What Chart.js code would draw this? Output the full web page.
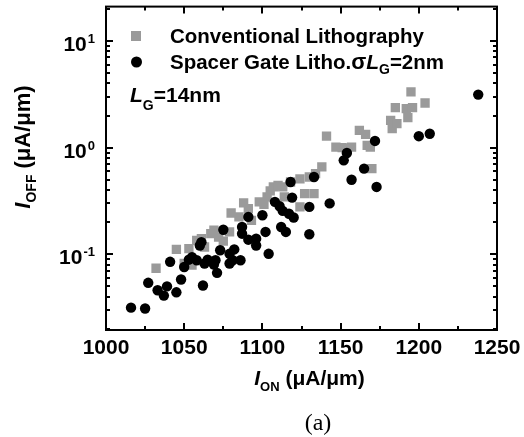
<!DOCTYPE html>
<html>
<head>
<meta charset="utf-8">
<script src="https://cdn.jsdelivr.net/npm/chart.js@4.4.1/dist/chart.umd.min.js"></script>
<style>
  html, body { margin: 0; padding: 0; background: #fff; }
  #wrap { position: relative; width: 524px; height: 437px; }
</style>
</head>
<body>
<div id="wrap"><canvas id="scatter"></canvas></div>
<script>
// Conventional lithography (grey squares)
var convX = [1032, 1045, 1050, 1053, 1055, 1058, 1061, 1063, 1067, 1069, 1072, 1075, 1079, 1080, 1085, 1088, 1091, 1093,
             1098, 1101, 1103, 1105, 1107, 1110, 1113, 1114, 1118, 1124, 1124, 1127, 1130, 1133, 1134, 1138, 1141, 1147,
             1151, 1154, 1157, 1162, 1166, 1167, 1169, 1170, 1182, 1183, 1185, 1186, 1192, 1193, 1195, 1196, 1204];
var convY = [0.074, 0.111, 0.082, 0.113, 0.079, 0.135, 0.140, 0.117, 0.156, 0.168, 0.145, 0.133, 0.162, 0.244, 0.224, 0.303, 0.268, 0.208,
             0.31, 0.294, 0.345, 0.393, 0.428, 0.443, 0.428, 0.345, 0.476, 0.278, 0.51, 0.37, 0.53, 0.37, 0.57, 0.66, 1.28, 1.01,
             1.0, 0.98, 1.01, 1.45, 1.33, 1.05, 1.01, 0.635, 1.80, 1.51, 2.37, 1.68, 2.32, 1.91, 3.33, 2.37, 2.62];

// Spacer gate lithography (black circles)
var spacerX = [1016, 1025, 1027, 1033, 1037, 1039, 1041, 1045, 1048, 1050, 1053, 1055, 1058, 1060, 1061, 1062, 1063, 1065,
               1069, 1070, 1071, 1073, 1075, 1079, 1079, 1081, 1082, 1086, 1087, 1087, 1091, 1091, 1096, 1096, 1100, 1102,
               1104, 1108, 1111, 1113, 1112, 1115, 1117, 1118, 1119, 1120, 1130, 1130, 1133, 1143, 1152, 1154, 1157, 1165,
               1172, 1173, 1200, 1207, 1238];
var spacerY = [0.0316, 0.031, 0.054, 0.046, 0.041, 0.050, 0.085, 0.044, 0.058, 0.076, 0.089, 0.094, 0.088, 0.121, 0.13, 0.051, 0.082, 0.089,
               0.080, 0.088, 0.067, 0.109, 0.170, 0.101, 0.082, 0.088, 0.111, 0.088, 0.18, 0.156, 0.224, 0.137, 0.121, 0.140, 0.232, 0.162,
               0.101, 0.31, 0.282, 0.255, 0.180, 0.162, 0.240, 0.476, 0.34, 0.221, 0.154, 0.278, 0.53, 0.30, 0.76, 0.89, 0.50, 0.635,
               1.155, 0.428, 1.28, 1.35, 3.14];

var xTicks = [1000, 1050, 1100, 1150, 1200, 1250];
var xMinor = [1025, 1075, 1125, 1175, 1225];
var yTicks = [0.1, 1, 10];
var yTickExp = ['-1', '0', '1'];

var SANS = '"Liberation Sans", Arial, sans-serif';
var SERIF = '"Liberation Serif", "Times New Roman", serif';
var GREY = '#9a9a9a';

function toPoints(xs, ys) {
  return xs.map(function (x, i) { return { x: x, y: ys[i] }; });
}

// draw a run of text pieces: [text, font, dy]
function drawRich(ctx, parts, x, y) {
  ctx.textAlign = 'left';
  ctx.textBaseline = 'alphabetic';
  parts.forEach(function (p) {
    ctx.font = p[1];
    ctx.fillText(p[0], x, y + (p[2] || 0));
    x += ctx.measureText(p[0]).width;
  });
}
function richWidth(ctx, parts) {
  var w = 0;
  parts.forEach(function (p) { ctx.font = p[1]; w += ctx.measureText(p[0]).width; });
  return w;
}

var framePlugin = {
  id: 'frame',
  afterDraw: function (chart) {
    var ctx = chart.ctx, a = chart.chartArea;
    var xs = chart.scales.x, ys = chart.scales.y;
    ctx.save();
    ctx.strokeStyle = '#000';
    ctx.fillStyle = '#000';
    ctx.lineWidth = 2;
    ctx.strokeRect(a.left, a.top, a.right - a.left, a.bottom - a.top);

    // x ticks, inward on bottom and top
    function xTick(v, len) {
      var px = Math.round(xs.getPixelForValue(v));
      ctx.beginPath();
      ctx.moveTo(px, a.bottom); ctx.lineTo(px, a.bottom - len);
      ctx.moveTo(px, a.top); ctx.lineTo(px, a.top + len);
      ctx.stroke();
    }
    xTicks.forEach(function (v) { xTick(v, 7); });
    xMinor.forEach(function (v) { xTick(v, 4); });

    // y ticks (log), inward on left and right
    function yTick(v, len) {
      var py = Math.round(ys.getPixelForValue(v));
      if (py < a.top || py > a.bottom) return;
      ctx.beginPath();
      ctx.moveTo(a.left, py); ctx.lineTo(a.left + len, py);
      ctx.moveTo(a.right, py); ctx.lineTo(a.right - len, py);
      ctx.stroke();
    }
    [0.01, 0.1, 1, 10].forEach(function (dec) {
      for (var m = 2; m <= 9; m++) yTick(dec * m, 4);
    });
    yTicks.forEach(function (v) { yTick(v, 7); });

    // x tick labels
    ctx.font = 'bold 21px ' + SANS;
    ctx.textAlign = 'center';
    ctx.textBaseline = 'alphabetic';
    xTicks.forEach(function (v) {
      ctx.fillText(String(v), xs.getPixelForValue(v), a.bottom + 24);
    });

    // y tick labels 10^n
    yTicks.forEach(function (v, i) {
      var py = ys.getPixelForValue(v);
      ctx.font = 'bold 13px ' + SANS;
      var ew = ctx.measureText(yTickExp[i]).width;
      var right = a.left - 11;
      ctx.textAlign = 'left';
      ctx.fillText(yTickExp[i], right - ew, py + 2);
      ctx.font = 'bold 21px ' + SANS;
      ctx.textAlign = 'right';
      ctx.fillText('10', right - ew - 1, py + 10);
    });

    // x axis title
    var xt = [['I', 'italic bold 21px ' + SANS], ['ON', 'bold 13px ' + SANS, 6], [' (\u03bcA/\u03bcm)', 'bold 21px ' + SANS]];
    var cx = (a.left + a.right) / 2 + 8;
    drawRich(ctx, xt, cx - richWidth(ctx, xt) / 2, 385);

    // y axis title, rotated
    var yt = [['I', 'italic bold 22px ' + SANS], ['OFF', 'bold 14px ' + SANS, 6], [' (\u03bcA/\u03bcm)', 'bold 22px ' + SANS]];
    ctx.save();
    ctx.translate(30, 147);
    ctx.rotate(-Math.PI / 2);
    drawRich(ctx, yt, -richWidth(ctx, yt) / 2, 0);
    ctx.restore();

    // legend
    ctx.fillStyle = GREY;
    ctx.fillRect(131, 31, 10, 10);
    ctx.fillStyle = '#000';
    ctx.beginPath();
    ctx.arc(136.5, 62, 5.5, 0, Math.PI * 2);
    ctx.fill();
    drawRich(ctx, [['Conventional Lithography', 'bold 20.5px ' + SANS]], 170, 43);
    drawRich(ctx, [['Spacer Gate Litho.', 'bold 20.5px ' + SANS], ['\u03c3', 'bold 22px ' + SANS],
                   ['L', 'italic bold 21px ' + SANS], ['G', 'bold 14px ' + SANS, 5], ['=2nm', 'bold 20.5px ' + SANS]], 170, 69);
    drawRich(ctx, [['L', 'italic bold 21px ' + SANS], ['G', 'bold 14px ' + SANS, 8], ['=14nm', 'bold 21px ' + SANS]], 130, 102);

    // caption
    ctx.font = '24px ' + SERIF;
    ctx.textAlign = 'center';
    ctx.fillText('(a)', 318, 430);
    ctx.restore();
  }
};

new Chart(document.getElementById('scatter'), {
  type: 'scatter',
  data: {
    datasets: [{
      label: 'Conventional Lithography',
      data: toPoints(convX, convY),
      pointStyle: 'rect',
      pointRadius: 6.6,
      backgroundColor: GREY,
      borderWidth: 0,
      order: 2
    }, {
      label: 'Spacer Gate Litho.',
      data: toPoints(spacerX, spacerY),
      pointStyle: 'circle',
      pointRadius: 5.2,
      backgroundColor: '#000',
      borderWidth: 0,
      order: 1
    }]
  },
  options: {
    responsive: true,
    maintainAspectRatio: false,
    animation: false,
    events: [],
    layout: { padding: { top: 6, right: 27, left: 0, bottom: 0 } },
    plugins: {
      legend: { display: false },
      tooltip: { enabled: false }
    },
    scales: {
      x: {
        type: 'linear',
        min: 1000,
        max: 1250,
        grid: { display: false },
        border: { display: false },
        ticks: { display: false },
        afterFit: function (s) { s.height = 107; }
      },
      y: {
        type: 'logarithmic',
        min: 0.0195,
        max: 21,
        grid: { display: false },
        border: { display: false },
        ticks: { display: false },
        afterFit: function (s) { s.width = 106; }
      }
    }
  },
  plugins: [framePlugin]
});
</script>
</body>
</html>
